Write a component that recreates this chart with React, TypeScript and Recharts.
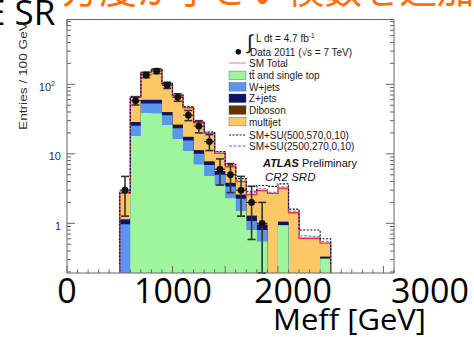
import React from 'react';
import { ComposedChart, Area, Line, Scatter, ErrorBar, XAxis, YAxis } from 'recharts';

// Meff bins, 100 GeV wide (lower edges)
const binLow = [500, 600, 700, 800, 900, 1000, 1100, 1200, 1300, 1400, 1500, 1600, 1700, 1800, 1900, 2000, 2100, 2200, 2300, 2400];
const BIN = 100;

// stacked backgrounds, bottom -> top (entries / 100 GeV)
const ttbar = [0, 18, 38.5, 38, 26, 16.3, 11, 7, 4.8, 3.5, 2.3, 1.5, 0.8, 0.55, 0, 0.94, 0, 0, 0, 0.31];
const wjets = [0.97, 7.4, 14.5, 15, 10, 7, 4.6, 3, 2.1, 1.5, 1.1, 0.75, 0.28, 0.25, 0, 0, 0, 0, 0, 0];
const zjets = [0.17, 3, 6.5, 6.5, 3.5, 2.7, 1.8, 1.2, 0.8, 0.6, 0.4, 0.3, 0.19, 0.15, 0, 0.11, 0, 0, 0, 0.02];
const diboson = [0, 0.3, 0.5, 0.5, 0.4, 0.3, 0.2, 0.15, 0.1, 0.08, 0.05, 0.04, 0.03, 0.02, 0, 0, 0, 0, 0, 0];
const multijet = [1.59, 36.3, 87, 104, 61, 42, 28.4, 16.6, 11.9, 4.5, 2.65, 1.4, 1.3, 2.0, 2.7, 2.15, 1.42, 0.61, 0.61, 0.19];

// SM + signal overlays
const smSu1 = [2.76, 66, 149, 166, 103, 70, 47.5, 29, 20.6, 10.8, 7.0, 4.4, 2.9, 3.5, 3.4, 3.7, 1.6, 0.8, 0.8, 0.6];
const smSu2 = [2.85, 67.5, 151, 168, 104, 70.5, 47.5, 29, 20.4, 10.6, 6.8, 4.2, 2.75, 3.15, 2.8, 3.35, 1.5, 0.66, 0.65, 0.55];

// Data 2011
const dataObs = [3, 58, 136, 155, 97, 65, 36, 25, 15, 6, 5, 3, 2, 1, 0, 0, 0, 0, 0, 0];

const xTicks = Array.from({ length: 32 }, (_, i) => i * 100);
const xMajor = [0, 500, 1000, 1500, 2000, 2500, 3000];
const yTicks = [
  0.2, 0.3, 0.4, 0.5, 0.6, 0.7, 0.8, 0.9,
  1, 2, 3, 4, 5, 6, 7, 8, 9,
  10, 20, 30, 40, 50, 60, 70, 80, 90,
  100, 200, 300, 400, 500, 600, 700, 800,
];
const yDecades = [1, 10, 100];

const slideXLabels = [
  { text: '0', x: 67 },
  { text: '1000', x: 173 },
  { text: '2000', x: 293 },
  { text: '3000', x: 430 },
];

const W = 474;
const H = 337;
const Y_MIN = 0.193;
const Y_MAX = 855;
const X_MAX = 3100;

const GREEN = '#9ff59c';
const BLUE = '#5b95f0';
const NAVY = '#0b1466';
const BROWN = '#663300';
const ORANGE = '#fcc865';
const RED = '#ff2e2e';
const SU2_BLUE = '#5a66ff';
const FRAME = '#666';
const PLOT_FONT = '"Liberation Sans", Arial, Helvetica, sans-serif';
const SLIDE_FONT = '"Open Sans", sans-serif';

// empty bins sit below the frame (log axis can't take 0)
const FLOOR = 0.01;
const lift = (v: number) => (v > 0 ? v : FLOOR);

const emptyRow = (x: number) => ({ x, tt: FLOOR, w: FLOOR, z: FLOOR, db: FLOOR, mj: FLOOR, su1: FLOOR, su2: FLOOR });

const rows = [emptyRow(binLow[0] - BIN)];
binLow.forEach((x, i) => {
  const c1 = ttbar[i];
  const c2 = c1 + wjets[i];
  const c3 = c2 + zjets[i];
  const c4 = c3 + diboson[i];
  const c5 = c4 + multijet[i];
  rows.push({ x, tt: lift(c1), w: lift(c2), z: lift(c3), db: lift(c4), mj: lift(c5), su1: lift(smSu1[i]), su2: lift(smSu2[i]) });
});
rows.push(emptyRow(binLow[binLow.length - 1] + BIN));

// sqrt(N) errors, lower end stopped at the bottom of the frame
const points = binLow
  .map((x, i) => ({ x: x + BIN / 2, n: dataObs[i] }))
  .filter((p) => p.n > 0)
  .map((p) => {
    const e = Math.sqrt(p.n);
    return { ...p, ey: [Math.min(e, p.n - Y_MIN), e], ex: BIN / 2 };
  });

const XTick = (p: any) => {
  const v = p.payload.value;
  const len = xMajor.includes(v) ? 7 : 3.5;
  return <line x1={p.x} x2={p.x} y1={p.y} y2={p.y + p.dir * len} stroke={FRAME} strokeWidth={1} />;
};

const YTick = (p: any) => {
  const v = p.payload.value;
  const major = yDecades.includes(v);
  const len = major ? 8 : 4;
  const line = <line x1={p.x} x2={p.x + p.dir * len} y1={p.y} y2={p.y} stroke={FRAME} strokeWidth={1} />;
  if (!p.labels || !major) return line;
  return (
    <g>
      {line}
      <text x={p.x - (v === 100 ? 12 : 6)} y={p.y + 6.5} textAnchor="end" fontSize={11} fill="#333" fontFamily={PLOT_FONT}>
        {v === 100 ? (
          <>
            10<tspan dy={-5} fontSize={7}>2</tspan>
          </>
        ) : (
          String(v)
        )}
      </text>
    </g>
  );
};

const legendItems = [
  { kind: 'line', label: 'SM Total', color: RED, y: 63 },
  { kind: 'box', label: 'tt\u0304 and single top', color: GREEN, y: 75.4 },
  { kind: 'box', label: 'W+jets', color: BLUE, y: 86.8 },
  { kind: 'box', label: 'Z+jets', color: NAVY, y: 98.3 },
  { kind: 'box', label: 'Diboson', color: BROWN, y: 110 },
  { kind: 'box', label: 'multijet', color: ORANGE, y: 121.6 },
  { kind: 'dash', label: 'SM+SU(500,570,0,10)', color: '#111', y: 135 },
  { kind: 'dash2', label: 'SM+SU(2500,270,0,10)', color: SU2_BLUE, y: 146 },
];

function Overlay() {
  return (
    <svg width={W} height={H} style={{ position: 'absolute', left: 0, top: 0, pointerEvents: 'none' }}>
      {/* slide text */}
      <text x={62} y={3} fontSize={37.5} fill="#ff6f0f" fontFamily='"Noto Sans CJK JP", sans-serif'>
        方度が小さい模数を追加
      </text>
      <text x={-14} y={24.5} fontSize={35} fill="#000" fontFamily={SLIDE_FONT}>
        E SR
      </text>

      {/* y title */}
      <text
        transform="translate(27,76) rotate(-90)"
        textAnchor="middle"
        fontSize={11}
        fill="#333"
        fontFamily={PLOT_FONT}
        textLength={108}
        lengthAdjust="spacingAndGlyphs"
      >
        Entries / 100 GeV
      </text>

      {/* legend */}
      <text x={247} y={49} fontSize={20} fill="#111" fontFamily={PLOT_FONT}>∫</text>
      <text x={256} y={42} fontSize={10} fill="#1a1a1a" fontFamily={PLOT_FONT}>
        L dt = 4.7 fb<tspan dy={-4} fontSize={6.5}>-1</tspan>
      </text>
      <circle cx={238.3} cy={51.7} r={2.8} fill="#111" />
      <text x={250} y={56} fontSize={10} fill="#1a1a1a" fontFamily={PLOT_FONT}>
        Data 2011 (√s = 7 TeV)
      </text>
      {legendItems.map((it) => (
        <g key={it.label}>
          {it.kind === 'box' && (
            <rect x={229} y={it.y - 4.3} width={17} height={8.6} fill={it.color} stroke="#555" strokeWidth={0.4} />
          )}
          {it.kind === 'line' && <line x1={229} x2={246} y1={it.y} y2={it.y} stroke={it.color} strokeOpacity={0.55} strokeWidth={1.2} />}
          {it.kind === 'dash' && <line x1={229} x2={246} y1={it.y} y2={it.y} stroke={it.color} strokeWidth={1.1} strokeDasharray="2 1.5" />}
          {it.kind === 'dash2' && <line x1={229} x2={246} y1={it.y} y2={it.y} stroke={it.color} strokeWidth={1} strokeDasharray="3 1.5" />}
          <text x={249} y={it.y + 4} fontSize={10} fill="#1a1a1a" fontFamily={PLOT_FONT}>
            {it.label}
          </text>
        </g>
      ))}
      <text x={263} y={167} fontSize={11} fill="#111" fontFamily={PLOT_FONT}>
        <tspan fontWeight="bold" fontStyle="italic">ATLAS</tspan> Preliminary
      </text>
      <text x={265} y={181} fontSize={11.5} fill="#111" fontStyle="italic" fontFamily={PLOT_FONT}>
        CR2 SRD
      </text>

      {/* slide axis labels */}
      {slideXLabels.map((l) => (
        <text key={l.text} x={l.x} y={303} textAnchor="middle" fontSize={34} fill="#000" fontFamily={SLIDE_FONT}>
          {l.text}
        </text>
      ))}
      <text x={273} y={330} fontSize={30} fill="#000" fontFamily={SLIDE_FONT} textLength={153} lengthAdjust="spacingAndGlyphs">
        Meff [GeV]
      </text>
    </svg>
  );
}

export default function App() {
  return (
    <div style={{ position: 'absolute', left: 0, top: 0, width: W, height: H, overflow: 'hidden', background: '#fff' }}>
      <ComposedChart width={W} height={H} data={rows} margin={{ top: 18.5, right: 79, bottom: 63, left: 66 }}>
        <XAxis
          dataKey="x"
          type="number"
          domain={[0, X_MAX]}
          allowDataOverflow
          ticks={xTicks}
          interval={0}
          height={1}
          tickSize={0}
          tickMargin={0}
          axisLine={{ stroke: FRAME }}
          tickLine={false}
          tick={(p: any) => <XTick {...p} dir={-1} />}
        />
        <XAxis
          xAxisId="t"
          orientation="top"
          type="number"
          domain={[0, X_MAX]}
          allowDataOverflow
          ticks={xTicks}
          interval={0}
          height={1}
          tickSize={0}
          tickMargin={0}
          axisLine={{ stroke: FRAME }}
          tickLine={false}
          tick={(p: any) => <XTick {...p} dir={1} />}
        />
        <YAxis
          type="number"
          scale="log"
          domain={[Y_MIN, Y_MAX]}
          allowDataOverflow
          ticks={yTicks}
          interval={0}
          width={1}
          tickSize={0}
          tickMargin={0}
          axisLine={{ stroke: FRAME }}
          tickLine={false}
          tick={(p: any) => <YTick {...p} dir={1} labels />}
        />
        <YAxis
          yAxisId="r"
          orientation="right"
          type="number"
          scale="log"
          domain={[Y_MIN, Y_MAX]}
          allowDataOverflow
          ticks={yTicks}
          interval={0}
          width={1}
          tickSize={0}
          tickMargin={0}
          axisLine={{ stroke: FRAME }}
          tickLine={false}
          tick={(p: any) => <YTick {...p} dir={-1} />}
        />

        <Area type="stepAfter" dataKey="mj" stroke="none" fill={ORANGE} fillOpacity={1} isAnimationActive={false} dot={false} activeDot={false} />
        <Area type="stepAfter" dataKey="db" stroke="none" fill={BROWN} fillOpacity={1} isAnimationActive={false} dot={false} activeDot={false} />
        <Area type="stepAfter" dataKey="z" stroke="none" fill={NAVY} fillOpacity={1} isAnimationActive={false} dot={false} activeDot={false} />
        <Area type="stepAfter" dataKey="w" stroke="none" fill={BLUE} fillOpacity={1} isAnimationActive={false} dot={false} activeDot={false} />
        <Area type="stepAfter" dataKey="tt" stroke="none" fill={GREEN} fillOpacity={1} isAnimationActive={false} dot={false} activeDot={false} />

        <Line type="stepAfter" dataKey="mj" stroke={RED} strokeWidth={1.4} dot={false} activeDot={false} isAnimationActive={false} />
        <Line type="stepAfter" dataKey="su2" stroke={SU2_BLUE} strokeWidth={1} strokeDasharray="3 1.5" dot={false} activeDot={false} isAnimationActive={false} />
        <Line type="stepAfter" dataKey="su1" stroke="#111" strokeWidth={1.1} strokeDasharray="2 1.5" dot={false} activeDot={false} isAnimationActive={false} />

        <Scatter
          data={points}
          dataKey="n"
          isAnimationActive={false}
          shape={(p: any) => <circle cx={p.cx} cy={p.cy} r={3.4} fill="#111" />}
        >
          <ErrorBar dataKey="ey" direction="y" width={4} stroke="#333" strokeWidth={1.6} />
          <ErrorBar dataKey="ex" direction="x" width={0} stroke="#333" strokeWidth={1.2} />
        </Scatter>
      </ComposedChart>
      <Overlay />
    </div>
  );
}
